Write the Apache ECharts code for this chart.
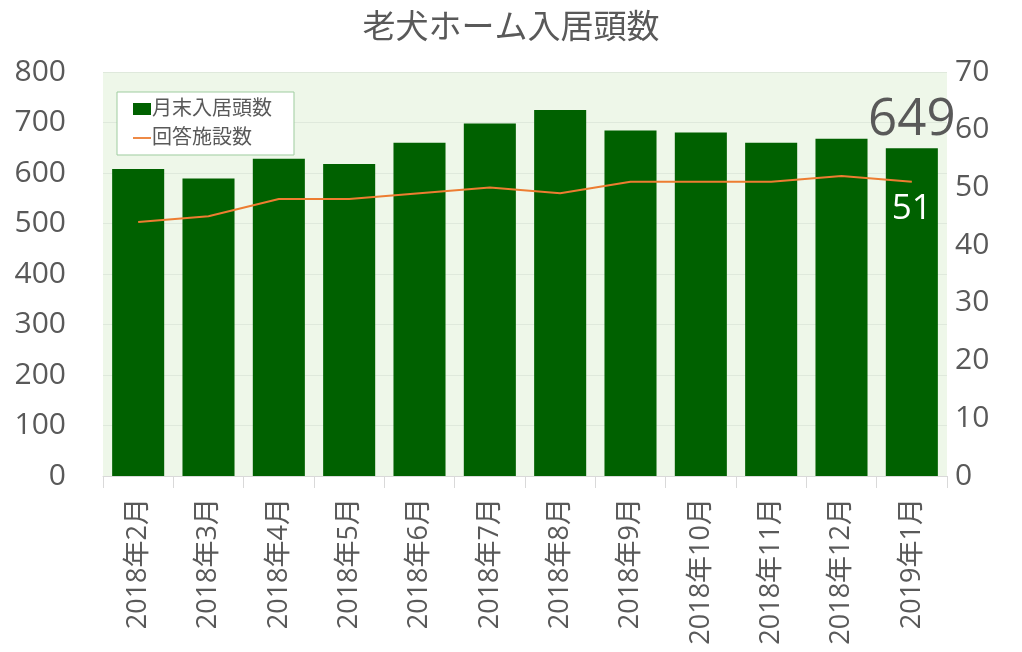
<!DOCTYPE html>
<html style="height: 100%">
<head>
    <meta charset="utf-8">
</head>
<body style="height: 100%; margin: 0; background: #fff">
<div id="container" style="width: 1022px; height: 652px"></div>

<script type="text/javascript" src="https://cdn.jsdelivr.net/npm/echarts@6/dist/echarts.min.js"></script>
<script type="text/javascript">
    // data
    const months = ['2018年2月', '2018年3月', '2018年4月', '2018年5月', '2018年6月', '2018年7月',
        '2018年8月', '2018年9月', '2018年10月', '2018年11月', '2018年12月', '2019年1月'];
    const dogs = [608, 589, 628, 618, 660, 698, 725, 684, 680, 660, 668, 649];
    const facilities = [44, 45, 48, 48, 49, 50, 49, 51, 51, 51, 52, 51];

    const font = "'Open Sans', 'Noto Sans CJK JP', sans-serif";
    const grey = '#595959';
    const last = dogs.length - 1;

    var dom = document.getElementById('container');
    var myChart = echarts.init(dom, null, {renderer: 'canvas'});

    var option = {
        animation: false,
        textStyle: {fontFamily: font},
        title: {
            text: '老犬ホーム入居頭数',
            left: 'center',
            top: 7,
            textStyle: {fontSize: 33, fontWeight: 'normal', color: grey, fontFamily: font}
        },
        grid: {
            left: 103, right: 75, top: 72, bottom: 176,
            show: true,
            backgroundColor: '#eef7e9',
            borderWidth: 0
        },
        legend: {
            orient: 'vertical',
            left: 117,
            top: 92,
            padding: [7, 22, 7, 16],
            itemGap: 9,
            itemWidth: 18,
            itemHeight: 12,
            backgroundColor: '#ffffff',
            borderColor: '#9fcc9f',
            borderWidth: 1,
            textStyle: {fontSize: 20, color: grey, fontFamily: font, padding: [0, 0, 0, -4]},
            data: [
                {name: '月末入居頭数', icon: 'rect'},
                {name: '回答施設数', icon: 'path://M0,0 L20,0 L20,2 L0,2 Z'}
            ]
        },
        xAxis: {
            type: 'category',
            data: months,
            axisLine: {lineStyle: {color: '#d9d9d9'}},
            axisTick: {show: true, length: 12, lineStyle: {color: '#d9d9d9'}},
            axisLabel: {rotate: 90, fontSize: 27, color: grey, margin: 22, interval: 0, fontFamily: font}
        },
        yAxis: [
            {
                type: 'value',
                min: 0, max: 800, interval: 100,
                axisLine: {show: false},
                axisTick: {show: false},
                splitLine: {lineStyle: {color: '#dfe9dc'}},
                axisLabel: {fontSize: 30, color: grey, margin: 37, fontFamily: font}
            },
            {
                type: 'value',
                min: 0, max: 70, interval: 10,
                axisLine: {show: false},
                axisTick: {show: false},
                splitLine: {show: false},
                axisLabel: {fontSize: 30, color: grey, margin: 8, fontFamily: font}
            }
        ],
        series: [
            {
                name: '月末入居頭数',
                type: 'bar',
                barWidth: '74%',
                itemStyle: {color: '#006100'},
                data: dogs.map(function (v, i) {
                    if (i !== last) return v;
                    return {
                        value: v,
                        label: {show: true, position: 'top', distance: 2, fontSize: 51, color: grey, fontFamily: font}
                    };
                })
            },
            {
                name: '回答施設数',
                type: 'line',
                yAxisIndex: 1,
                symbol: 'circle',
                symbolSize: 0,
                itemStyle: {color: '#ed7d31'},
                lineStyle: {color: '#ed7d31', width: 2},
                data: facilities.map(function (v, i) {
                    if (i !== last) return v;
                    return {
                        value: v,
                        label: {show: true, position: 'bottom', distance: 10, fontSize: 35, color: '#ffffff', fontFamily: font}
                    };
                })
            }
        ]
    };

    if (option && typeof option === 'object') {
        myChart.setOption(option);
    }
</script>
</body>
</html>
